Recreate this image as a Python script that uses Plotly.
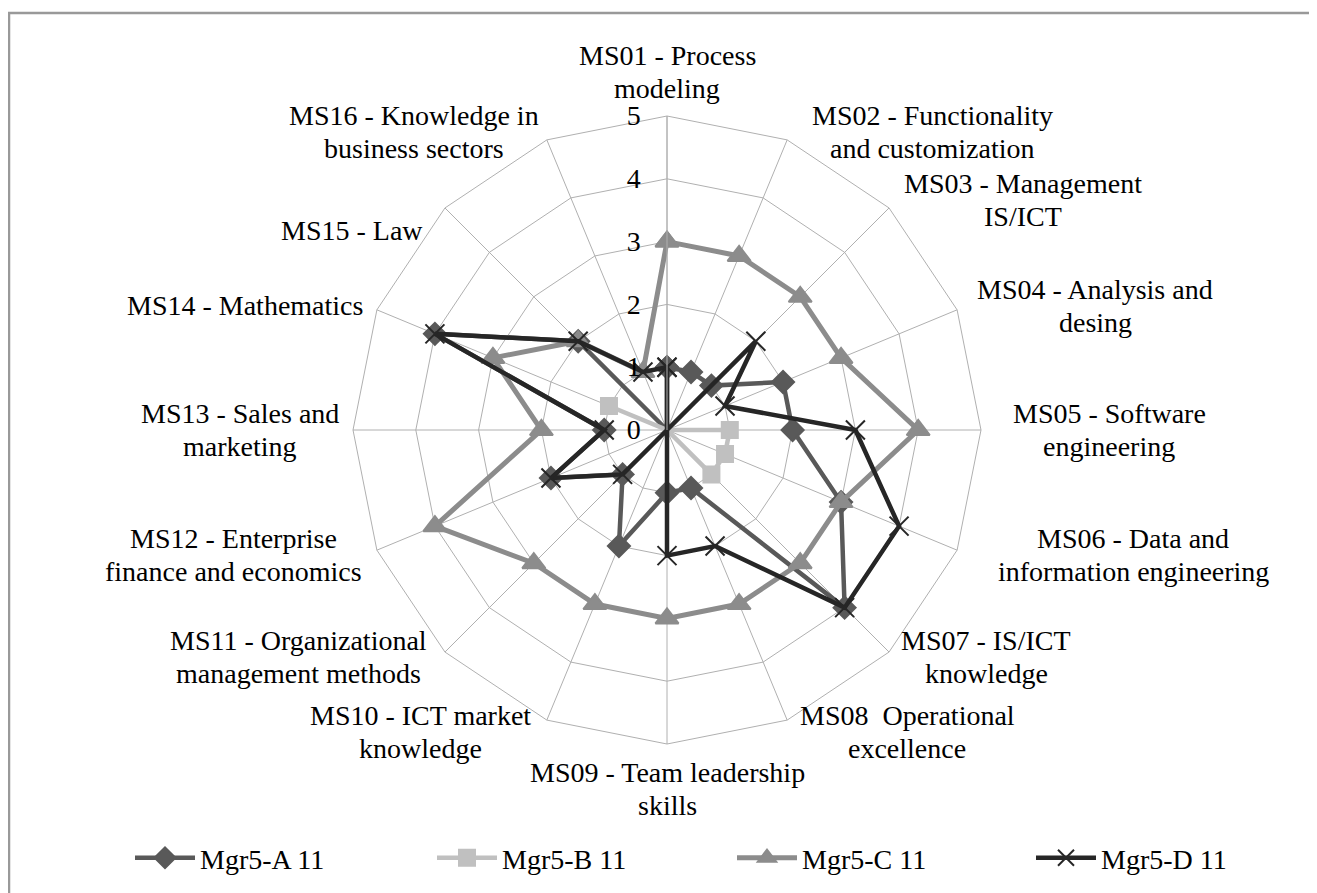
import plotly.graph_objects as go

# ---------------- data ----------------
categories = ["MS01", "MS02", "MS03", "MS04", "MS05", "MS06", "MS07", "MS08",
              "MS09", "MS10", "MS11", "MS12", "MS13", "MS14", "MS15", "MS16"]
category_labels = [
    "MS01 - Process<br>modeling",
    "MS02 - Functionality<br>and customization",
    "MS03 - Management<br>IS/ICT",
    "MS04 - Analysis and<br>desing",
    "MS05 - Software<br>engineering",
    "MS06 - Data and<br>information engineering",
    "MS07 - IS/ICT<br>knowledge",
    "MS08  Operational<br>excellence",
    "MS09 - Team leadership<br>skills",
    "MS10 - ICT market<br>knowledge",
    "MS11 - Organizational<br>management methods",
    "MS12 - Enterprise<br>finance and economics",
    "MS13 - Sales and<br>marketing",
    "MS14 - Mathematics",
    "MS15 - Law",
    "MS16 - Knowledge in<br>business sectors",
]
series_names = ["Mgr5-A 11", "Mgr5-B 11", "Mgr5-C 11", "Mgr5-D 11"]
mgr5_a = [1, 1, 1, 2, 2, 3, 4, 1, 1, 2, 1, 2, 1, 4, 2, 0]
mgr5_b = [0, 0, 0, 0, 1, 1, 1, 0, 0, 0, 0, 0, 0, 1, 0, 0]
mgr5_c = [3, 3, 3, 3, 4, 3, 3, 3, 3, 3, 3, 4, 2, 3, 2, 1]
mgr5_d = [1, 0, 2, 1, 3, 4, 4, 2, 2, 0, 1, 2, 1, 4, 2, 1]
radial_ticks = [0, 1, 2, 3, 4, 5]

# ---------------- layout / style ----------------
# the page body has an 8px margin, so the figure is offset by 8px
OFF = 8
W, H = 1317 - OFF, 893 - OFF
CX, CY, R = 667, 430, 314          # reference-pixel centre / radius of the radar
FONT = "Liberation Serif, Times New Roman, serif"
FS = 28
LINE_GAP = 33
GRID = "#b0b0b0"


def px_x(px):
    return (px - OFF) / W


def px_y(py):
    return 1 - (py - OFF) / H


styles = [
    dict(color="#595959", symbol="diamond", size=17, lw=4.5),
    dict(color="#c0c0c0", symbol="square", size=16, lw=4.5),
    dict(color="#8c8c8c", symbol="triangle-up", size=20, lw=5),
    dict(color="#262626", symbol="x-thin", size=19, lw=4.5),
]
legend_ids = ["legend", "legend2", "legend3", "legend4"]
legend_x = [130, 432, 732, 1031]   # reference-pixel left edges of legend entries

fig = go.Figure()
for name, vals, st, lid in zip(series_names, [mgr5_a, mgr5_b, mgr5_c, mgr5_d], styles, legend_ids):
    fig.add_trace(go.Scatterpolar(
        r=vals + vals[:1],
        theta=categories + categories[:1],
        mode="lines+markers",
        name=name,
        legend=lid,
        line=dict(color=st["color"], width=st["lw"]),
        marker=dict(symbol=st["symbol"], size=st["size"], color=st["color"],
                    line=dict(color=st["color"], width=2)),
    ))

# label positions (pixel centres of the text blocks in the reference)
label_pos = [(667, 72), (932, 132), (1023, 200), (1095, 306), (1109, 430),
             (1133, 555), (986, 657), (907, 732), (667, 789), (420, 732),
             (298, 657), (233, 555), (240, 430), (245, 305), (352, 230),
             (414, 132)]
annotations = []
for txt, (px, py) in zip(category_labels, label_pos):
    lines = txt.split("<br>")
    n = len(lines)
    for i, ln in enumerate(lines):
        ly = py + (i - (n - 1) / 2) * LINE_GAP
        annotations.append(dict(
            text=ln, x=px_x(px), y=px_y(ly), xref="paper", yref="paper",
            xanchor="center", yanchor="middle", align="center", showarrow=False,
            font=dict(family=FONT, size=FS, color="#000000"),
        ))

legend_layouts = {}
for lid, lx in zip(legend_ids, legend_x):
    legend_layouts[lid] = dict(
        orientation="h", x=px_x(lx), y=px_y(858), xanchor="left", yanchor="middle",
        font=dict(family=FONT, size=FS, color="#000000"),
        itemwidth=60, bgcolor="rgba(0,0,0,0)",
    )

fig.update_layout(
    width=W, height=H,
    margin=dict(l=0, r=0, t=0, b=0),
    paper_bgcolor="white",
    plot_bgcolor="white",
    font=dict(family=FONT, size=FS, color="#000000"),
    polar=dict(
        domain=dict(x=[px_x(CX - R), px_x(CX + R)], y=[px_y(CY + R), px_y(CY - R)]),
        bgcolor="white",
        gridshape="linear",
        angularaxis=dict(
            rotation=90, direction="clockwise",
            categoryorder="array", categoryarray=categories,
            showticklabels=False, ticks="",
            showline=True, linecolor=GRID, linewidth=1,
            showgrid=True, gridcolor=GRID, gridwidth=1,
        ),
        radialaxis=dict(
            range=[0, 5], tickvals=radial_ticks, ticktext=[str(t) for t in radial_ticks],
            angle=90, side="counterclockwise", tickangle=90,
            showline=True, linecolor=GRID, linewidth=1,
            showgrid=True, gridcolor=GRID, gridwidth=1,
            ticks="outside", ticklen=16, tickcolor="rgba(0,0,0,0)",
            tickfont=dict(family=FONT, size=FS, color="#000000"),
        ),
    ),
    showlegend=True,
    annotations=annotations,
    shapes=[dict(type="rect", xref="paper", yref="paper",
                 x0=px_x(9), x1=1.02, y0=-0.02, y1=px_y(13),
                 line=dict(color="#999999", width=2.5), fillcolor="rgba(0,0,0,0)",
                 layer="below")],
    **legend_layouts,
)

fig.write_html("out.html")
